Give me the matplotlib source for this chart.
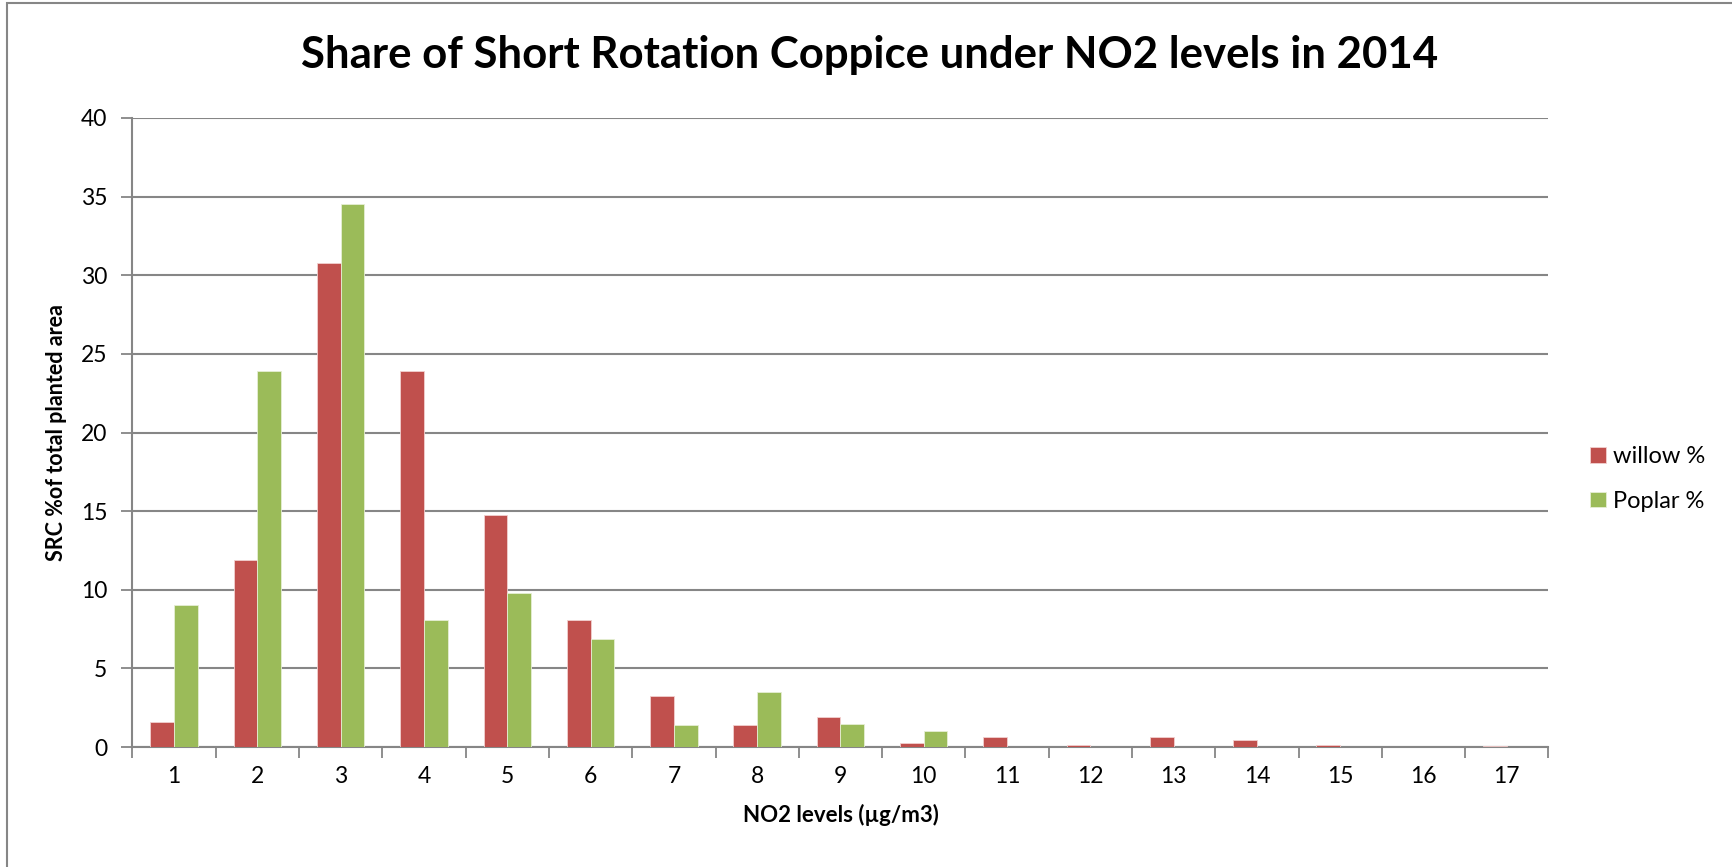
import matplotlib.pyplot as plt
import numpy as np
from matplotlib.patches import Rectangle

# values
levels = [str(i) for i in range(1, 18)]
willow = [1.6, 11.9, 30.8, 23.9, 14.75, 8.1, 3.25, 1.38, 1.9, 0.26, 0.63,
          0.12, 0.64, 0.43, 0.12, 0.0, 0.05]
poplar = [9.0, 23.9, 34.5, 8.1, 9.78, 6.86, 1.39, 3.51, 1.47, 1.03, 0.0,
          0.0, 0.0, 0.0, 0.0, 0.0, 0.0]
y_ticks = list(range(0, 45, 5))

WILLOW_COLOR = "#C0504D"
POPLAR_COLOR = "#9BBB59"
GRID_COLOR = "#868686"

plt.rcParams["font.family"] = ["Lato", "DejaVu Sans"]

fig = plt.figure(figsize=(17.32, 8.67), dpi=100)
ax = fig.add_axes([0.0765, 0.1384, 0.8175, 0.7255])

x = np.arange(1, len(levels) + 1)
w = 0.285
ax.bar(x - w / 2, willow, width=w, color=WILLOW_COLOR, edgecolor="#f2d0cf",
       linewidth=[0.6 if v > 0 else 0 for v in willow], label="willow %", zorder=3)
ax.bar(x + w / 2, poplar, width=w, color=POPLAR_COLOR, edgecolor="#e6eed4",
       linewidth=[0.6 if v > 0 else 0 for v in poplar], label="Poplar %", zorder=3)

ax.set_xlim(0.5, len(levels) + 0.5)
ax.set_ylim(0, 40)
ax.set_yticks(y_ticks)
ax.set_xticks(x)
ax.set_xticklabels(levels)
ax.set_xticks(np.arange(0.5, len(levels) + 1), minor=True)
ax.tick_params(axis="x", which="major", length=0, pad=14, labelsize=16.5)
ax.tick_params(axis="x", which="minor", length=8, width=1.3, color=GRID_COLOR, direction="out")
ax.tick_params(axis="y", length=8, width=1.3, color=GRID_COLOR, direction="out",
               pad=10, labelsize=16.5)

ax.yaxis.grid(True, color=GRID_COLOR, linewidth=1.5, zorder=0)
ax.set_axisbelow(True)
for side in ("top", "right"):
    ax.spines[side].set_visible(False)
for side in ("left", "bottom"):
    ax.spines[side].set_color(GRID_COLOR)
    ax.spines[side].set_linewidth(1.5)

ax.set_ylabel("SRC %of total planted area", fontsize=15.5, fontweight="bold", labelpad=10)
ax.set_xlabel("NO2 levels (\u00b5g/m3)", fontsize=16, fontweight="bold", labelpad=12)

fig.text(0.502, 0.936, "Share of Short Rotation Coppice under NO2 levels in 2014",
         ha="center", va="center", fontsize=31.5, fontweight="bold")

ax.legend(loc="center left", bbox_to_anchor=(1.0145, 0.426), frameon=False,
          fontsize=17, handlelength=0.65, handleheight=0.65, labelspacing=1.0,
          handletextpad=0.3)

# outer chart border (cropped on the right and bottom in the reference)
fig.patches.append(Rectangle((0.004, -0.05), 1.1, 1.047, transform=fig.transFigure,
                             fill=False, edgecolor=GRID_COLOR, linewidth=1.5))

fig.savefig("out.png", dpi=100)
